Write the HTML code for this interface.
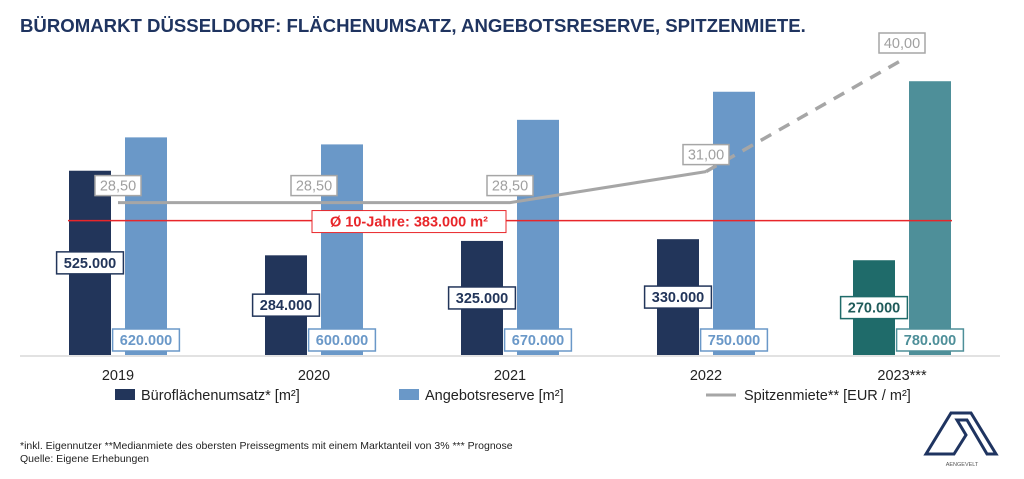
<!DOCTYPE html>
<html><head><meta charset="utf-8"><style>
body{margin:0;background:#fff;width:1024px;height:474px;overflow:hidden;font-family:"Liberation Sans",sans-serif;}
</style></head><body>
<svg width="1024" height="474" xmlns="http://www.w3.org/2000/svg" font-family="Liberation Sans, sans-serif">
<text x="20" y="32" font-size="18.6" font-weight="bold" fill="#1f3460">BÜROMARKT DÜSSELDORF: FLÄCHENUMSATZ, ANGEBOTSRESERVE, SPITZENMIETE.</text>
<line x1="20" y1="356" x2="1000" y2="356" stroke="#d9d9d9" stroke-width="1.5"/>
<g id="bars"></g><g id="avg"></g><g id="line"></g><g id="labels"></g>
<g>
<rect x="115" y="389" width="20" height="11" fill="#22355a"/>
<text x="141" y="400" font-size="14.5" fill="#222">Büroflächenumsatz* [m²]</text>
<rect x="399" y="389" width="20" height="11" fill="#6a98c8"/>
<text x="425" y="400" font-size="14.5" fill="#222">Angebotsreserve [m²]</text>
<line x1="706" y1="395" x2="736" y2="395" stroke="#a6a6a6" stroke-width="3"/>
<text x="744" y="400" font-size="14.5" fill="#222">Spitzenmiete** [EUR / m²]</text>
</g>
<text x="20" y="449" font-size="10.5" fill="#222">*inkl. Eigennutzer **Medianmiete des obersten Preissegments mit einem Marktanteil von 3% *** Prognose</text>
<text x="20" y="462" font-size="10.5" fill="#222">Quelle: Eigene Erhebungen</text>
<g>
<path d="M926 454 L951 413 L971 413 L996 454 L987 454 L967 420 L957 420 L966 435 L954 454 Z" fill="none" stroke="#1f3460" stroke-width="3" stroke-linejoin="miter"/>
<text x="962" y="466" font-size="5.5" fill="#555" text-anchor="middle">AENGEVELT</text>
</g>
</svg>
<script>
const years=["2019","2020","2021","2022","2023***"];
const umsatz=[525000,284000,325000,330000,270000];
const angebot=[620000,600000,670000,750000,780000];
const miete=[28.5,28.5,28.5,31,40];
const avg10=383000;
const ns="http://www.w3.org/2000/svg";
const base=355;
const yA=v=>base-v*0.000351;
const yM=v=>556-12.4*v;
const xC=i=>118+196*i;
function mk(tag,attrs,parent){const e=document.createElementNS(ns,tag);for(const k in attrs)e.setAttribute(k,attrs[k]);document.getElementById(parent).appendChild(e);return e;}
const fmt=v=>v.toLocaleString('de-DE').replace(/,/g,'.');
function labelBox(cx,cy,txt,stroke,fill,bold,parent,name){
  const w=txt.length*8.4+8;
  const r=mk('rect',{x:cx-w/2,y:cy-11,width:w,height:22,fill:'#fff',stroke:stroke,'stroke-width':1.5},parent);
  
  
  const t=mk('text',{x:cx,y:cy+5,'text-anchor':'middle','font-size':14.5,fill:fill,'font-weight':bold?'bold':'normal'},parent);
  
  
  t.textContent=txt;
}
years.forEach((y,i)=>{
  const last=i===4;
  const dx=xC(i)-28, lx=xC(i)+28;
  const b1=mk('rect',{x:dx-21,y:yA(umsatz[i]),width:42,height:base-yA(umsatz[i]),fill:last?'#1f6b6a':'#22355a'},'bars');
  
  
  const b2=mk('rect',{x:lx-21,y:yA(angebot[i]),width:42,height:base-yA(angebot[i]),fill:last?'#4e8f99':'#6a98c8'},'bars');
  
  
  const t=mk('text',{x:xC(i),y:380,'text-anchor':'middle','font-size':14.5,fill:'#222'},'labels');
  
  
  t.textContent=y;
  const uy=Math.min(yA(umsatz[i])+(base-yA(umsatz[i]))*0.5, 308);
  labelBox(dx,uy,fmt(umsatz[i]),last?'#1f6b6a':'#22355a',last?'#1f5b5a':'#22355a',true,'labels','value-umsatz');
  labelBox(lx,340,fmt(angebot[i]),last?'#4e8f99':'#6a98c8',last?'#4e8f99':'#6a98c8',true,'labels','value-angebot');
});
const ay=yA(avg10);
const al=mk('line',{x1:68,y1:ay,x2:952,y2:ay,stroke:'#e8262a','stroke-width':1.5},'avg');


const ar=mk('rect',{x:312,y:ay-10,width:194,height:22,fill:'#fff',stroke:'#e8262a','stroke-width':1},'avg');


const at=mk('text',{x:409,y:ay+6,'text-anchor':'middle','font-size':14.5,'font-weight':'bold',fill:'#e8262a'},'avg');


at.textContent='Ø 10-Jahre: '+fmt(avg10)+' m²';
const pts=miete.map((v,i)=>[xC(i),yM(v)]);
const solid=mk('polyline',{points:pts.slice(0,4).map(p=>p.join(',')).join(' '),fill:'none',stroke:'#a6a6a6','stroke-width':3},'line');


const dash=mk('line',{x1:pts[3][0],y1:pts[3][1],x2:pts[4][0],y2:pts[4][1],stroke:'#a6a6a6','stroke-width':3.5,'stroke-dasharray':'12,9'},'line');


miete.forEach((v,i)=>{
  const s=v.toFixed(2).replace('.',',');
  const w=46,cx=pts[i][0],cy=pts[i][1]-17;
  const r=mk('rect',{x:cx-w/2,y:cy-10,width:w,height:20,fill:'#fff',stroke:'#a6a6a6','stroke-width':1.5},'labels');
  
  
  const t=mk('text',{x:cx,y:cy+5,'text-anchor':'middle','font-size':14.5,fill:'#a0a0a0'},'labels');
  
  
  t.textContent=s;
});
</script>
</body></html>
